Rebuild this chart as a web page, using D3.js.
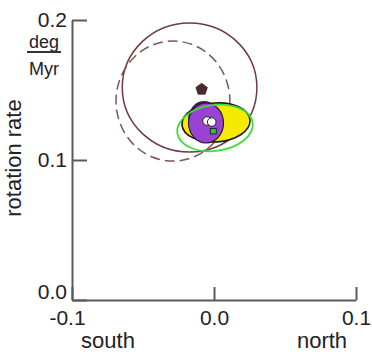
<!DOCTYPE html>
<html>
<head>
<meta charset="utf-8">
<script src="https://cdn.jsdelivr.net/npm/d3@7"></script>
<style>
  html, body { margin: 0; padding: 0; background: #fff; }
  svg { display: block; font-family: "Liberation Sans", Arial, Helvetica, sans-serif; }
</style>
</head>
<body>
<svg id="chart" width="372" height="354"></svg>
<script>
// Axis ticks
const xTicks = [-0.1, 0.0, 0.1];
const yTicks = [0.0, 0.1, 0.2];
const xTickLabels = ["-0.1", "0.0", "0.1"];
const yTickLabels = ["0.0", "0.1", "0.2"];
const xEndLabels = ["south", "north"];
const yLabel = "rotation rate";
const unitTop = "deg";
const unitBottom = "Myr";

// Confidence ellipses: centre (x = north-south offset, y = rotation rate), radii, tilt
const ellipseNames  = ["model A", "model B", "model C", "model D", "model E", "model F"];
const ellipseCx     = [-0.0172, -0.0289, 0.0014, -0.0070, -0.0056, 0.0007];
const ellipseCy     = [ 0.1518,  0.1421, 0.1268,  0.1286,  0.1264, 0.1229];
const ellipseRx     = [ 0.0474,  0.0401, 0.0240,  0.0113,  0.0123, 0.0268];
const ellipseRy     = [ 0.0461,  0.0429, 0.0139,  0.0136,  0.0143, 0.0164];
const ellipseTilt   = [0, 0, -4, 0, 0, -8];

// Best-fit poles
const pentagonPoint = [-0.0087, 0.1505];
const whitePointsX  = [-0.0049, -0.0016];
const whitePointsY  = [ 0.1279,  0.1271];
const squarePoint   = [-0.0005, 0.1204];

const svg = d3.select("#chart");
const x = d3.scaleLinear().domain([-0.1, 0.1]).range([72, 356]);
const y = d3.scaleLinear().domain([0, 0.2]).range([300, 20]);

const axisColor = "#5a5a5a";
const textColor = "#222";

// Ellipse styles, in drawing order
const styles = [
  { fill: "none", stroke: "#6e3c3e", width: 1.5, dash: null },
  { fill: "none", stroke: "#7b5656", width: 1.5, dash: "10,5" },
  { fill: "#f6ea00", stroke: "#1a1a1a", width: 1.6, dash: null },
  { fill: "#3a2347", stroke: "none", width: 0, dash: null },
  { fill: "#9a42d4", stroke: "#1a1a1a", width: 1.1, dash: null },
  { fill: "none", stroke: "#3fdc3f", width: 1.8, dash: null }
];

const g = svg.append("g");
ellipseCx.forEach((cx, i) => {
  const px = x(cx), py = y(ellipseCy[i]);
  const rx = x(ellipseCx[i] + ellipseRx[i]) - x(ellipseCx[i]);
  const ry = y(ellipseCy[i]) - y(ellipseCy[i] + ellipseRy[i]);
  const s = styles[i];
  g.append("ellipse")
    .attr("cx", 0).attr("cy", 0).attr("rx", rx).attr("ry", ry)
    .attr("transform", `translate(${px},${py}) rotate(${ellipseTilt[i]})`)
    .attr("fill", s.fill)
    .attr("stroke", s.stroke)
    .attr("stroke-width", s.width)
    .attr("stroke-dasharray", s.dash);
});

// Pentagon marker
const pr = 6;
const pentPts = d3.range(5).map(k => {
  const a = -Math.PI / 2 + k * 2 * Math.PI / 5;
  return [x(pentagonPoint[0]) + pr * Math.cos(a), y(pentagonPoint[1]) + pr * Math.sin(a)];
});
svg.append("polygon")
  .attr("points", pentPts.map(p => p.join(",")).join(" "))
  .attr("fill", "#4a2a2c")
  .attr("stroke", "#3a2022")
  .attr("stroke-width", 0.8);

// White pole markers
whitePointsX.forEach((vx, i) => {
  svg.append("circle")
    .attr("cx", x(vx)).attr("cy", y(whitePointsY[i])).attr("r", 4.3)
    .attr("fill", "#fff").attr("stroke", "#222").attr("stroke-width", 1);
});

// Green square marker
svg.append("rect")
  .attr("x", x(squarePoint[0]) - 3).attr("y", y(squarePoint[1]) - 3)
  .attr("width", 6).attr("height", 5.5)
  .attr("fill", "#22c34a").attr("stroke", "#1a1a1a").attr("stroke-width", 0.8);

// Axes
const yAxis = d3.axisLeft(y).tickValues(yTicks).tickSize(-15).tickSizeOuter(0)
  .tickPadding(5).tickFormat((d, i) => yTickLabels[i]);
const xAxis = d3.axisBottom(x).tickValues(xTicks).tickSize(-13).tickSizeOuter(0)
  .tickPadding(10).tickFormat((d, i) => xTickLabels[i]);

const ya = svg.append("g").attr("transform", `translate(${x(-0.1)},0)`).call(yAxis);
const xa = svg.append("g").attr("transform", `translate(0,${y(0)})`).call(xAxis);

[ya, xa].forEach(a => {
  a.select(".domain").attr("stroke", axisColor).attr("stroke-width", 2);
  a.selectAll(".tick line").attr("stroke", axisColor).attr("stroke-width", 2);
  a.selectAll(".tick text").attr("fill", textColor).style("font-size", "21px")
    .style("font-family", "'Liberation Sans', Arial, sans-serif");
});
ya.selectAll(".tick text").attr("dy", (d) => d === 0 ? "-0.05em" : "0.32em");
xa.selectAll(".tick text").attr("dx", (d) => d < 0 ? "-5" : "0");

// Direction labels under the x axis
svg.append("text").attr("x", 108).attr("y", 348).attr("text-anchor", "middle")
  .attr("fill", textColor).style("font-size", "22px").text(xEndLabels[0]);
svg.append("text").attr("x", 322).attr("y", 348).attr("text-anchor", "middle")
  .attr("fill", textColor).style("font-size", "22px").text(xEndLabels[1]);

// Y axis title
svg.append("text").attr("transform", "translate(21,158) rotate(-90)")
  .attr("text-anchor", "middle").attr("fill", textColor)
  .style("font-size", "22px").text(yLabel);

// Unit fraction
svg.append("text").attr("x", 44).attr("y", 48).attr("text-anchor", "middle")
  .attr("fill", textColor).style("font-size", "18px").text(unitTop);
svg.append("line").attr("x1", 27).attr("x2", 61).attr("y1", 52).attr("y2", 52)
  .attr("stroke", "#333").attr("stroke-width", 2);
svg.append("text").attr("x", 44).attr("y", 75).attr("text-anchor", "middle")
  .attr("fill", textColor).style("font-size", "18px").text(unitBottom);
</script>
</body>
</html>
